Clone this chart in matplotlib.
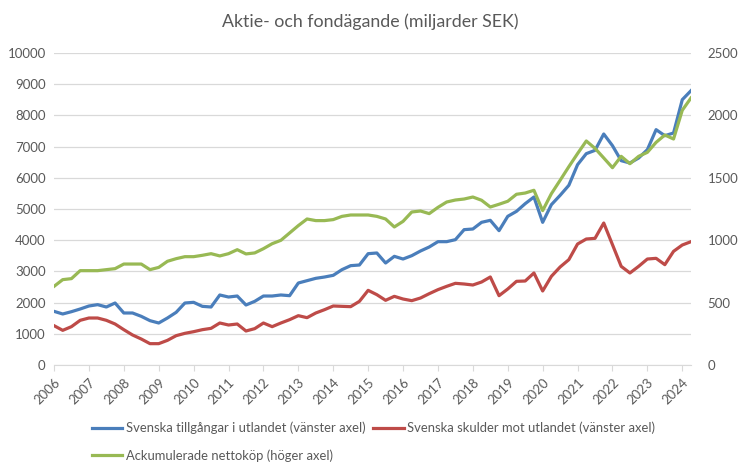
import matplotlib
matplotlib.use('Agg')
import matplotlib.pyplot as plt
import numpy as np

# Quarterly data 2006Q1 - 2024Q2 (miljarder SEK)
years = [str(y) for y in range(2006, 2025)]

tillgangar = [1720, 1635, 1709, 1795, 1891, 1934, 1859, 1987, 1667, 1667,
              1560, 1421, 1346, 1506, 1688, 1987, 2009, 1880, 1859, 2244,
              2179, 2211, 1923, 2040, 2211, 2211, 2244, 2222, 2628, 2703,
              2778, 2820, 2874, 3056, 3184, 3205, 3568, 3590, 3269, 3483,
              3397, 3504, 3654, 3782, 3953, 3953, 4017, 4338, 4359, 4573,
              4637, 4306, 4765, 4925, 5171, 5385, 4573, 5139, 5438, 5759,
              6421, 6774, 6880, 7404, 7030, 6549, 6474, 6634, 6902, 7543,
              7350, 7436, 8504, 8793]

skulder = [1261, 1111, 1229, 1432, 1506, 1506, 1432, 1314, 1132, 962,
           833, 684, 684, 790, 940, 1015, 1068, 1132, 1175, 1346,
           1282, 1314, 1090, 1165, 1346, 1229, 1346, 1453, 1581, 1517,
           1667, 1773, 1891, 1880, 1870, 2040, 2393, 2254, 2073, 2201,
           2115, 2062, 2147, 2286, 2415, 2521, 2618, 2596, 2564, 2660,
           2821, 2222, 2436, 2682, 2692, 2949, 2372, 2842, 3141, 3376,
           3878, 4038, 4060, 4551, 3857, 3162, 2949, 3162, 3397, 3419,
           3216, 3643, 3846, 3953]

# right axis (0-2500)
nettokop = [630, 684, 692, 756, 756, 756, 764, 772, 809, 809,
            809, 764, 782, 831, 852, 868, 868, 879, 892, 874,
            892, 924, 890, 898, 932, 972, 999, 1058, 1117, 1170,
            1157, 1157, 1165, 1191, 1202, 1202, 1202, 1191, 1170, 1106,
            1151, 1226, 1234, 1213, 1263, 1306, 1322, 1330, 1346, 1320,
            1266, 1288, 1312, 1368, 1378, 1400, 1237, 1373, 1480, 1589,
            1694, 1795, 1736, 1659, 1581, 1672, 1613, 1672, 1704, 1784,
            1843, 1811, 2041, 2140]

x = np.arange(len(tillgangar))

plt.rcParams['font.family'] = ['Lato', 'DejaVu Sans']
grey = '#595959'

fig = plt.figure(figsize=(7.4, 4.71), dpi=100)
ax1 = fig.add_axes([54 / 740, 1 - 365 / 471, 637 / 740, 312 / 471])
ax2 = ax1.twinx()

l1, = ax1.plot(x, tillgangar, color='#4A7EBB', lw=2.3, solid_joinstyle='round',
               label='Svenska tillgångar i utlandet (vänster axel)')
l2, = ax1.plot(x, skulder, color='#BE4B48', lw=2.3, solid_joinstyle='round',
               label='Svenska skulder mot utlandet (vänster axel)')
l3, = ax2.plot(x, nettokop, color='#98B954', lw=2.3, solid_joinstyle='round',
               label='Ackumulerade nettoköp (höger axel)')

ax1.set_ylim(0, 10000)
ax1.set_yticks(np.arange(0, 10001, 1000))
ax2.set_ylim(0, 2500)
ax2.set_yticks(np.arange(0, 2501, 500))
ax1.set_xlim(0, len(x) - 1)
ax1.set_xticks(np.arange(0, len(x), 4))
ax1.set_xticklabels(years, rotation=45, ha='right', rotation_mode='anchor')

ax1.grid(axis='y', color='#D9D9D9', lw=0.9)
ax1.set_axisbelow(True)
for a in (ax1, ax2):
    for s in a.spines.values():
        s.set_visible(False)
ax1.spines['bottom'].set_visible(True)
ax1.spines['bottom'].set_color('#D9D9D9')
ax1.tick_params(axis='x', colors='#D9D9D9', labelcolor=grey, labelsize=9.5,
                length=4, pad=4)
ax1.tick_params(axis='y', length=0, labelcolor=grey, labelsize=9.5, pad=6)
ax2.tick_params(axis='y', length=0, labelcolor=grey, labelsize=9.5, pad=12)

fig.suptitle('Aktie- och fondägande (miljarder SEK)', x=0.5, y=0.972,
             fontsize=12.8, color=grey)

fig.legend([l1, l3, l2], [l1.get_label(), l3.get_label(), l2.get_label()],
           ncol=2, loc='upper left', bbox_to_anchor=(80 / 740, 1 - 410 / 471),
           frameon=False, fontsize=9.4, labelcolor=grey, handlelength=2.35,
           handletextpad=0.25, columnspacing=0.6, labelspacing=1.15)

fig.savefig('out.png', dpi=100)
